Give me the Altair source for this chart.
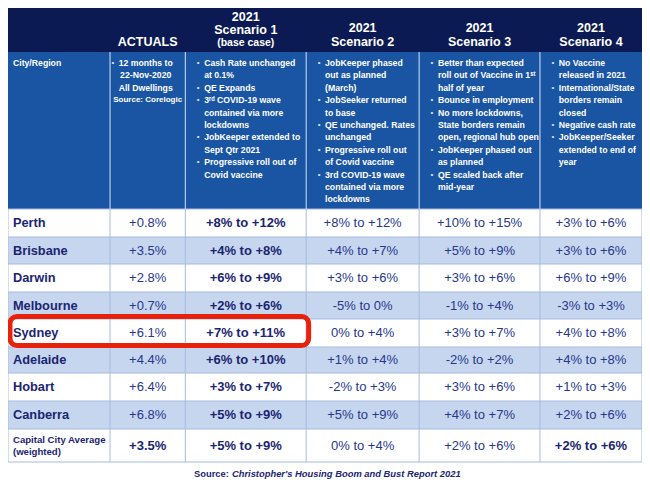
import altair as alt
import pandas as pd

# ---------------- data ----------------
cities = ["Perth", "Brisbane", "Darwin", "Melbourne", "Sydney",
          "Adelaide", "Hobart", "Canberra"]
avg_label = ["Capital City Average", "(weighted)"]
actuals = ["+0.8%", "+3.5%", "+2.8%", "+0.7%", "+6.1%", "+4.4%", "+6.4%", "+6.8%", "+3.5%"]
scen1 = ["+8% to +12%", "+4% to +8%", "+6% to +9%", "+2% to +6%", "+7% to +11%",
         "+6% to +10%", "+3% to +7%", "+5% to +9%", "+5% to +9%"]
scen2 = ["+8% to +12%", "+4% to +7%", "+3% to +6%", "-5% to 0%", "0% to +4%",
         "+1% to +4%", "-2% to +3%", "+5% to +9%", "0% to +4%"]
scen3 = ["+10% to +15%", "+5% to +9%", "+3% to +6%", "-1% to +4%", "+3% to +7%",
         "-2% to +2%", "+3% to +6%", "+4% to +7%", "+2% to +6%"]
scen4 = ["+3% to +6%", "+3% to +6%", "+6% to +9%", "-3% to +3%", "+4% to +8%",
         "+4% to +8%", "+1% to +3%", "+2% to +6%", "+2% to +6%"]

header_year = "2021"
header_names = ["ACTUALS", "Scenario 1", "Scenario 2", "Scenario 3", "Scenario 4"]
header_sub = "(base case)"
first_col_label = "City/Region"

actuals_desc = ["12 months to", "22-Nov-2020", "All Dwellings"]
actuals_source = "Source: Corelogic"
desc_s1 = [["Cash Rate unchanged", "at 0.1%"], ["QE Expands"],
           ["3ʳᵈ COVID-19 wave", "contained via more", "lockdowns"],
           ["JobKeeper extended to", "Sept Qtr 2021"],
           ["Progressive roll out of", "Covid vaccine"]]
desc_s2 = [["JobKeeper phased", "out as planned", "(March)"],
           ["JobSeeker returned", "to base"],
           ["QE unchanged. Rates", "unchanged"],
           ["Progressive roll out", "of Covid vaccine"],
           ["3rd COVID-19 wave", "contained via more", "lockdowns"]]
desc_s3 = [["Better than expected", "roll out of Vaccine in 1ˢᵗ", "half of year"],
           ["Bounce in employment"],
           ["No more lockdowns,", "State borders remain", "open, regional hub open"],
           ["JobKeeper phased out", "as planned"],
           ["QE scaled back after", "mid-year"]]
desc_s4 = [["No Vaccine", "released in 2021"],
           ["International/State", "borders remain", "closed"],
           ["Negative cash rate"],
           ["JobKeeper/Seeker", "extended to end of", "year"]]
source_a = "Source:"
source_b = "Christopher's Housing Boom and Bust Report 2021"

# ---------------- layout / style ----------------
col_edges = [7, 110, 186, 308, 422, 544, 647]
row_edges = [209, 237, 264, 292, 319, 347, 373, 401, 429, 462]
head_top, head_bot = 5, 52
NAVY = "#0b1a52"
MIDBLUE = "#1a55a4"
LIGHT = "#c6d6ef"
GRID = "#a6bbdf"
TXT_BOLD = "#1b2572"
TXT_REG = "#27378c"
SANS = "Liberation Sans, Arial, Helvetica"

xs = alt.Scale(domain=[7, 647], nice=False, zero=False)
ys = alt.Scale(domain=[8, 483], nice=False, zero=False, reverse=True)
W, H = 634, 475

def enc_rect():
    return dict(x=alt.X("x:Q", scale=xs, axis=None), x2="x2:Q",
                y=alt.Y("y:Q", scale=ys, axis=None), y2="y2:Q",
                color=alt.Color("c:N", scale=None, legend=None))

def enc_text():
    return dict(x=alt.X("x:Q", scale=xs, axis=None),
                y=alt.Y("y:Q", scale=ys, axis=None),
                text="t:N", color=alt.Color("c:N", scale=None, legend=None))

# backgrounds
rects = [dict(x=col_edges[0], x2=col_edges[-1], y=head_top, y2=head_bot, c=NAVY),
         dict(x=col_edges[0], x2=col_edges[-1], y=head_bot, y2=row_edges[0], c=MIDBLUE)]
for i in range(len(row_edges) - 1):
    rects.append(dict(x=col_edges[0], x2=col_edges[-1], y=row_edges[i], y2=row_edges[i + 1],
                      c="#ffffff" if i % 2 == 0 else LIGHT))
bg = alt.Chart(pd.DataFrame(rects)).mark_rect().encode(**enc_rect())

# grid lines
lines = []
for yv in row_edges:
    lines.append(dict(x=col_edges[0], x2=col_edges[-1], y=yv, y2=yv, c=GRID))
for xv in col_edges:
    lines.append(dict(x=xv, x2=xv, y=row_edges[0], y2=row_edges[-1], c=GRID))
grid = alt.Chart(pd.DataFrame(lines)).mark_rule(strokeWidth=1).encode(**enc_rect())
dlines = [dict(x=xv, x2=xv, y=head_bot, y2=row_edges[0], c="#d5e3f6") for xv in col_edges[1:-1]]
dgrid = alt.Chart(pd.DataFrame(dlines)).mark_rule(strokeWidth=1).encode(**enc_rect())

centers = [(col_edges[j] + col_edges[j + 1]) / 2 for j in range(len(col_edges) - 1)]

# header text
hdr_big = [dict(x=centers[1], y=42, t=header_names[0], c="white"),
           dict(x=centers[2], y=17, t=header_year, c="white"),
           dict(x=centers[2], y=30, t=header_names[1], c="white")]
for j in range(3, 6):
    hdr_big.append(dict(x=centers[j], y=28, t=header_year, c="white"))
    hdr_big.append(dict(x=centers[j], y=42, t=header_names[j - 1], c="white"))
hdr1 = alt.Chart(pd.DataFrame(hdr_big)).mark_text(
    font=SANS, fontSize=12.5, fontWeight="bold", baseline="middle", align="center").encode(**enc_text())
hdr2 = alt.Chart(pd.DataFrame([dict(x=centers[2], y=43, t=header_sub, c="white")])).mark_text(
    font=SANS, fontSize=10.5, fontWeight="bold", baseline="middle", align="center").encode(**enc_text())

# description row text
y0, dy = 63, 12.4
desc_left, bullets = [], []
desc_left.append(dict(x=col_edges[0] + 5, y=y0, t=first_col_label, c="white"))
for j, blist in zip([2, 3, 4, 5], [desc_s1, desc_s2, desc_s3, desc_s4]):
    k = 0
    for b in blist:
        bullets.append(dict(x=col_edges[j] + 13, y=y0 + k * dy, t="•", c="#dbe6f6"))
        for line in b:
            desc_left.append(dict(x=col_edges[j] + 19, y=y0 + k * dy, t=line, c="white"))
            k += 1
bullets.append(dict(x=col_edges[1] + 3, y=y0, t="•", c="#dbe6f6"))
desc_l = alt.Chart(pd.DataFrame(desc_left)).mark_text(
    font=SANS, fontSize=8.7, fontWeight="bold", baseline="middle", align="left").encode(**enc_text())
bul = alt.Chart(pd.DataFrame(bullets)).mark_text(
    font=SANS, fontSize=8, baseline="middle", align="center").encode(**enc_text())
act_rows = [dict(x=centers[1] - 2, y=y0 + k * dy, t=t, c="white") for k, t in enumerate(actuals_desc)]
act_d = alt.Chart(pd.DataFrame(act_rows)).mark_text(
    font=SANS, fontSize=8.7, fontWeight="bold", baseline="middle", align="center").encode(**enc_text())
act_s = alt.Chart(pd.DataFrame([dict(x=centers[1], y=y0 + 3 * dy, t=actuals_source, c="white")])).mark_text(
    font=SANS, fontSize=8, fontWeight="bold", baseline="middle", align="center").encode(**enc_text())

# body cells
row_mid = [(row_edges[i] + row_edges[i + 1]) / 2 for i in range(len(row_edges) - 1)]
n_avg = len(row_mid) - 1
city_rows = [dict(x=col_edges[0] + 5, y=row_mid[i], t=c, c=TXT_BOLD) for i, c in enumerate(cities)]
city_t = alt.Chart(pd.DataFrame(city_rows)).mark_text(
    font=SANS, fontSize=12.8, fontWeight="bold", baseline="middle", align="left").encode(**enc_text())
avg_rows = [dict(x=col_edges[0] + 5, y=row_mid[n_avg] - 6 + 12 * k, t=t, c=TXT_BOLD)
            for k, t in enumerate(avg_label)]
avg_t = alt.Chart(pd.DataFrame(avg_rows)).mark_text(
    font=SANS, fontSize=9.6, fontWeight="bold", baseline="middle", align="left").encode(**enc_text())

bold_cells, reg_cells = [], []
for j, vals in zip([1, 2, 3, 4, 5], [actuals, scen1, scen2, scen3, scen4]):
    for i, v in enumerate(vals):
        is_bold = (j == 2) or (i == n_avg and j in (1, 5))
        rec = dict(x=centers[j], y=row_mid[i], t=v, c=TXT_BOLD if is_bold else TXT_REG)
        (bold_cells if is_bold else reg_cells).append(rec)
cell_b = alt.Chart(pd.DataFrame(bold_cells)).mark_text(
    font=SANS, fontSize=13, fontWeight="bold", baseline="middle", align="center").encode(**enc_text())
cell_r = alt.Chart(pd.DataFrame(reg_cells)).mark_text(
    font=SANS, fontSize=13, baseline="middle", align="center").encode(**enc_text())

# highlight around Sydney, spanning first three columns
hi = cities.index("Sydney")
hl = alt.Chart(pd.DataFrame([dict(x=col_edges[0] + 2, x2=col_edges[3] + 2.5,
                                  y=row_edges[hi] - 2.5, y2=row_edges[hi + 1] - 1.5, c="#e8210c")])
               ).mark_rect(filled=False, strokeWidth=5, cornerRadius=7).encode(
    x=alt.X("x:Q", scale=xs, axis=None), x2="x2:Q",
    y=alt.Y("y:Q", scale=ys, axis=None), y2="y2:Q",
    stroke=alt.Color("c:N", scale=None, legend=None))

# source caption
src_a = alt.Chart(pd.DataFrame([dict(x=230, y=474, t=source_a, c=TXT_BOLD)])).mark_text(
    font=SANS, fontSize=9.4, fontWeight="bold", baseline="middle", align="right").encode(**enc_text())
src_b = alt.Chart(pd.DataFrame([dict(x=233, y=474, t=source_b, c=TXT_BOLD)])).mark_text(
    font=SANS, fontSize=9.4, fontWeight="bold", fontStyle="italic", baseline="middle",
    align="left").encode(**enc_text())

chart = alt.layer(bg, grid, dgrid, hdr1, hdr2, desc_l, bul, act_d, act_s,
                  city_t, avg_t, cell_b, cell_r, hl, src_a, src_b).properties(
    width=W, height=H, padding=0, autosize=alt.AutoSizeParams(type="none"),
    background="white"
).configure_view(stroke=None)

chart.save("out.html", embed_options={"renderer": "svg", "actions": False})
